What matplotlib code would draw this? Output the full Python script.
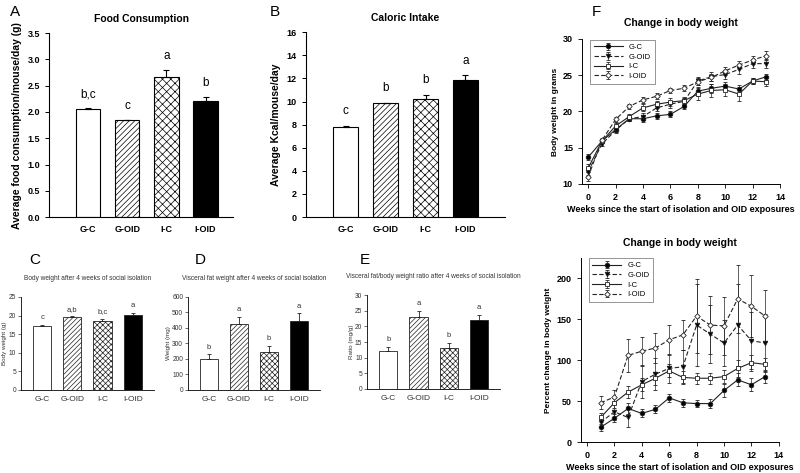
import numpy as np
import matplotlib
matplotlib.use('Agg')
from matplotlib import pyplot as plt

plt.rcParams['font.family'] = ['Liberation Sans', 'DejaVu Sans']
plt.rcParams['hatch.linewidth'] = 0.5

groups = ['G-C', 'G-OID', 'I-C', 'I-OID']

# panel A / B
food = [2.05, 1.84, 2.67, 2.20]
food_err = [0.02, 0.0, 0.12, 0.08]
food_letters = ['b,c', 'c', 'a', 'b']
kcal = [7.8, 9.9, 10.2, 11.9]
kcal_err = [0.1, 0.0, 0.4, 0.4]
kcal_letters = ['c', 'b', 'b', 'a']

# panel C / D / E
bw = [17.3, 19.5, 18.5, 20.2]
bw_err = [0.3, 0.3, 0.7, 0.6]
bw_letters = ['c', 'a,b', 'b,c', 'a']
fat = [200, 425, 245, 448]
fat_err = [30, 45, 38, 47]
fat_letters = ['b', 'a', 'b', 'a']
ratio = [12.0, 22.9, 13.2, 21.9]
ratio_err = [1.5, 2.0, 1.6, 1.8]
ratio_letters = ['b', 'a', 'b', 'a']

# panel F
weeks = list(range(14))
gc_w = [13.7, 15.9, 17.5, 19.0, 19.0, 19.4, 19.6, 20.7, 22.8, 23.2, 23.5, 23.1, 24.2, 24.8]
goid_w = [11.7, 15.5, 17.4, 19.0, 19.3, 20.5, 21.0, 21.4, 24.2, 24.8, 25.1, 25.8, 26.6, 26.6]
ic_w = [12.2, 15.9, 18.0, 19.3, 20.5, 21.0, 21.3, 21.5, 22.4, 22.9, 23.0, 22.4, 24.2, 24.1]
ioid_w = [11.0, 16.0, 18.9, 20.7, 21.6, 22.1, 22.9, 23.2, 24.1, 24.7, 25.6, 26.4, 27.1, 27.7]
gc_we = [0.4, 0.3, 0.3, 0.3, 0.4, 0.4, 0.4, 0.4, 0.6, 0.6, 0.6, 0.5, 0.4, 0.4]
goid_we = [0.5, 0.3, 0.3, 0.3, 0.5, 0.5, 0.5, 0.5, 0.6, 0.6, 0.6, 0.6, 0.6, 0.6]
ic_we = [0.6, 0.3, 0.4, 0.3, 0.5, 0.5, 0.5, 0.5, 0.8, 0.9, 0.8, 1.0, 0.4, 0.6]
ioid_we = [0.6, 0.3, 0.3, 0.3, 0.4, 0.4, 0.4, 0.4, 0.5, 0.5, 0.5, 0.5, 0.5, 0.6]

weeks_p = list(range(1, 14))
gc_p = [18, 29, 41, 35, 40, 54, 48, 47, 47, 63, 76, 70, 80]
goid_p = [24, 37, 30, 74, 83, 90, 92, 143, 132, 121, 143, 124, 121]
ic_p = [30, 48, 61, 70, 78, 87, 79, 78, 78, 80, 90, 97, 95]
ioid_p = [48, 55, 106, 111, 115, 125, 131, 154, 143, 142, 175, 166, 154]
gc_pe = [4, 5, 7, 5, 5, 5, 5, 4, 5, 8, 8, 8, 8]
goid_pe = [6, 10, 12, 20, 20, 18, 20, 50, 35, 28, 50, 35, 35]
ic_pe = [5, 6, 7, 8, 8, 8, 8, 7, 7, 8, 10, 10, 8]
ioid_pe = [8, 8, 20, 18, 18, 18, 18, 45, 35, 35, 42, 38, 32]

colors = ['white', 'white', 'white', 'black']
hatches_big = [None, '//////', 'xxxx', None]
hatches_small = [None, '///////', 'xxxxxx', None]

fig = plt.figure(figsize=(8, 4.73), dpi=100)


def bar_panel(rect, vals, errs, letters, ylim, yticks, title, ylabel, big, xlim):
    ax = fig.add_axes(rect)
    x = np.arange(4)
    hatches = hatches_big if big else hatches_small
    lw = 0.8 if big else 0.6
    edge = 'black' if big else '#222222'
    bars = ax.bar(x, vals, width=0.62 if big else 0.6, color=colors,
                  edgecolor=edge, linewidth=lw)
    for b, h in zip(bars, hatches):
        if h:
            b.set_hatch(h)
    ax.errorbar(x, vals, yerr=[np.zeros(4), errs], fmt='none', ecolor=edge,
                elinewidth=lw, capsize=2 if big else 1.5, capthick=lw)
    off = ylim[1] * (0.045 if big else 0.04)
    for xi, v, e, t in zip(x, vals, errs, letters):
        ax.text(xi, v + e + off, t, ha='center', va='bottom',
                fontsize=8.5 if big else 5.5, color='black' if big else '#333333')
    ax.set_xlim(*xlim)
    ax.set_ylim(*ylim)
    ax.set_yticks(yticks)
    ax.set_xticks(x)
    ax.set_xticklabels(groups)
    for s in ['top', 'right']:
        ax.spines[s].set_visible(False)
    ax.spines['left'].set_linewidth(lw)
    ax.spines['bottom'].set_linewidth(lw)
    if big:
        ax.tick_params(axis='both', labelsize=6.5, width=0.7, length=3)
        ax.tick_params(axis='x', length=0, pad=6)
        for lab in ax.get_xticklabels() + ax.get_yticklabels():
            lab.set_fontweight('bold')
        ax.set_title(title, fontsize=7.5, fontweight='bold', pad=8)
        ax.set_ylabel(ylabel, fontsize=7.5, fontweight='bold', labelpad=4)
    else:
        ax.tick_params(axis='both', labelsize=4.8, width=0.5, length=2,
                       colors='#333333', pad=1.5)
        ax.tick_params(axis='x', length=0, labelsize=6, pad=4)
        ax.set_title(title, fontsize=4.7, pad=12, color='#333333')
        ax.set_ylabel(ylabel, fontsize=4.5, labelpad=1, color='#333333')
    return ax


bar_panel([0.06125, 0.541, 0.23, 0.389], food, food_err, food_letters,
          (0, 3.5), np.arange(0, 3.6, 0.5), 'Food Consumption',
          'Average food consumption/mouse/day (g)', True, (-1, 3.7))
bar_panel([0.3825, 0.541, 0.249, 0.391], kcal, kcal_err, kcal_letters,
          (0, 16), np.arange(0, 17, 2), 'Caloric Intake',
          'Average Kcal/mouse/day', True, (-1, 4.0))
bar_panel([0.02625, 0.1755, 0.166, 0.1966], bw, bw_err, bw_letters,
          (0, 25), np.arange(0, 26, 5),
          'Body weight after 4 weeks of social isolation',
          'Body weight (g)', False, (-0.7, 3.7))
bar_panel([0.235, 0.1755, 0.165, 0.1966], fat, fat_err, fat_letters,
          (0, 600), np.arange(0, 601, 100),
          'Visceral fat weight after 4 weeks of social isolation',
          'Weight (mg)', False, (-0.7, 3.7))
bar_panel([0.459, 0.1776, 0.166, 0.1987], ratio, ratio_err, ratio_letters,
          (0, 30), np.arange(0, 31, 5),
          'Visceral fat/body weight ratio after 4 weeks of social isolation',
          'Ratio (mg/g)', False, (-0.7, 3.7))


def line_panel(rect, xs, series, ylim, yticks, ylabel):
    ax = fig.add_axes(rect)
    styles = [('G-C', '-', 'o', 'black'), ('G-OID', '--', 'v', 'black'),
              ('I-C', '-', 's', 'white'), ('I-OID', '--', 'D', 'white')]
    for (name, ls, mk, fc), (ys, es) in zip(styles, series):
        ax.errorbar(xs, ys, yerr=es, color='#222222', linestyle=ls,
                    linewidth=0.8, marker=mk,
                    markersize=3.3 if mk != 'D' else 2.8,
                    markerfacecolor=fc, markeredgecolor='#222222',
                    markeredgewidth=0.6, elinewidth=0.5, capsize=1.5,
                    capthick=0.5, dashes=(4, 2) if ls == '--' else (None, None),
                    label=name)
    ax.set_xlim(-0.45, 14)
    ax.set_ylim(*ylim)
    ax.set_xticks(range(0, 15, 2))
    ax.set_yticks(yticks)
    for s in ['top', 'right']:
        ax.spines[s].set_visible(False)
    ax.spines['left'].set_linewidth(0.7)
    ax.spines['bottom'].set_linewidth(0.7)
    ax.tick_params(axis='both', labelsize=6.5, width=0.6, length=3)
    for lab in ax.get_xticklabels() + ax.get_yticklabels():
        lab.set_fontweight('bold')
    ax.set_title('Change in body weight', fontsize=7.5, fontweight='bold', pad=9)
    ax.set_xlabel('Weeks since the start of isolation and OID exposures',
                  fontsize=6.5, fontweight='bold', labelpad=2)
    ax.set_ylabel(ylabel, fontsize=6, fontweight='bold', labelpad=3)
    leg = ax.legend(loc='upper left', fontsize=5.5, frameon=True, fancybox=False,
                    edgecolor='#444444', handlelength=3.8, borderpad=0.5,
                    labelspacing=0.3, bbox_to_anchor=(0.02, 1.02))
    leg.get_frame().set_linewidth(0.5)
    return ax


line_panel([0.7275, 0.611, 0.2475, 0.3066], weeks,
           [(gc_w, gc_we), (goid_w, goid_we), (ic_w, ic_we), (ioid_w, ioid_we)],
           (10, 30), range(10, 31, 5), 'Body weight in grams')
line_panel([0.726, 0.0655, 0.2475, 0.389], weeks_p,
           [(gc_p, gc_pe), (goid_p, goid_pe), (ic_p, ic_pe), (ioid_p, ioid_pe)],
           (0, 225), range(0, 201, 50), 'Percent change in body weight')

# panel letters
for t, x, y in [('A', 0.012, 0.99), ('B', 0.337, 0.99), ('C', 0.036, 0.465),
                ('D', 0.243, 0.465), ('E', 0.45, 0.465), ('F', 0.74, 0.99)]:
    fig.text(x, y, t, fontsize=11, va='top', ha='left')

fig.savefig('out.png', dpi=100)
